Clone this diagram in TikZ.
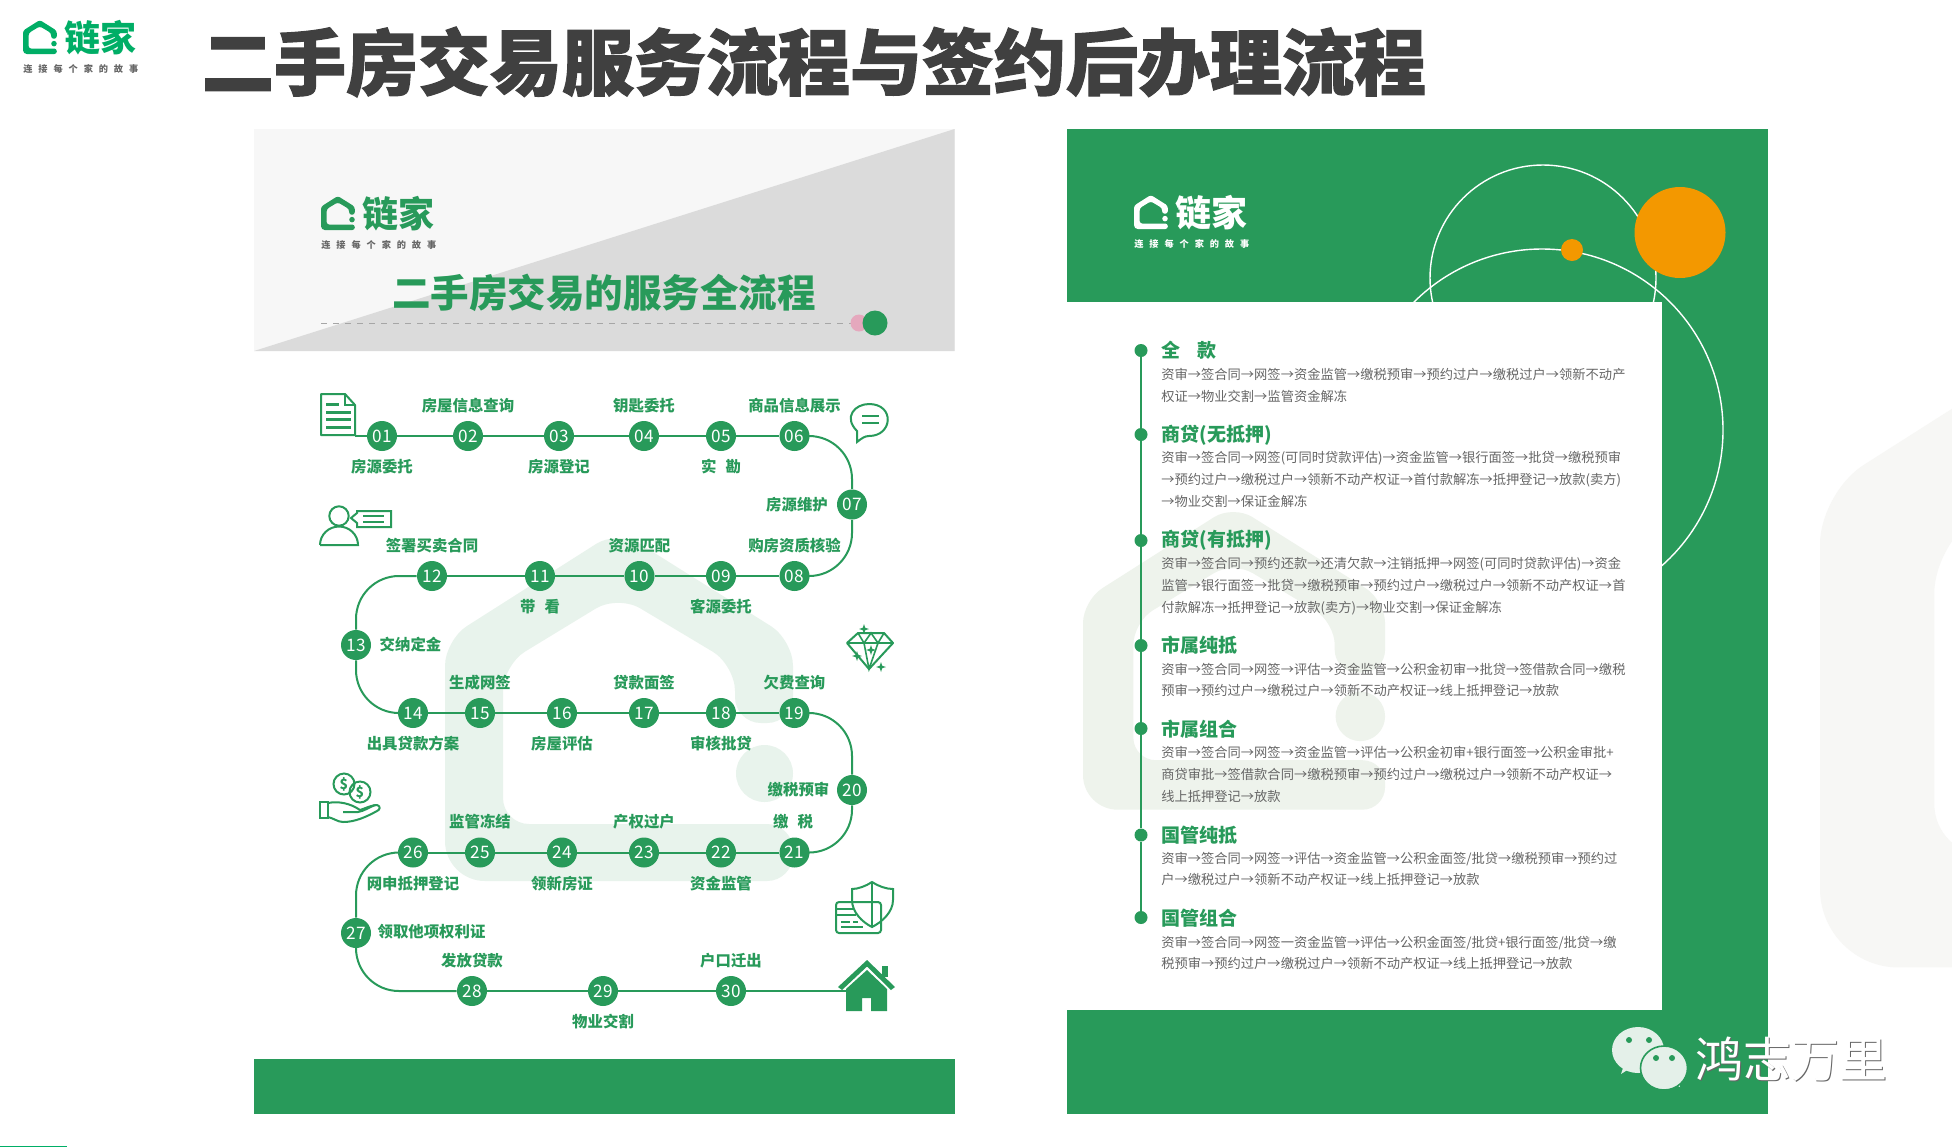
\documentclass[tikz,border=0pt]{standalone}
\usepackage{fontspec}
\usetikzlibrary{calc}
\setmainfont{Noto Sans CJK SC}
\newfontfamily\heavyfont[BoldFeatures={FakeBold=1.6}]{Noto Sans CJK SC}
\newfontfamily\sloganfont[LetterSpace=64]{Noto Sans CJK SC}
\definecolor{lgreen}{HTML}{289A5A}
\definecolor{bgreen}{HTML}{00AE66}
\definecolor{lorange}{HTML}{F39800}
\definecolor{lgray}{HTML}{666666}
\definecolor{ltitle}{HTML}{404040}
\definecolor{lpink}{HTML}{E5A8BD}
\definecolor{wmleft}{HTML}{E8F3EC}
\definecolor{wmright}{HTML}{EEF3EC}
\definecolor{wmpage}{HTML}{F7F7F5}
\definecolor{wxpale}{HTML}{E4F0E9}
\tikzset{
  pics/housemark/.style 2 args={code={
      \fill[#1,scale=#2,rounded corners=#2*13pt] (0,200) -- (0,110) -- (173,0) -- (348,110) -- (348,193) -- (290,193) -- (290,135) -- (173,65) -- (58,135) -- (58,294) -- (348,294) -- (348,351) [rounded corners=#2*20pt] -- (0,351) -- cycle;
      \fill[#1,scale=#2] (319.5,243.5) circle[radius=28.5];
  }},
  pics/logomark/.style 2 args={code={
      \pic at (0,0) {housemark={#1}{.097}};
      \node[text=#1,inner sep=0pt,anchor=west,font=\bfseries\fontsize{18}{18}\selectfont](-brand)at(41,18){链家};
      \node[text=#2,inner sep=0pt,anchor=west,font=\sloganfont\bfseries\fontsize{4.6}{5}\selectfont](-slogan)at(0,48.5){连接每个家的故事};
  }},
  pics/sparkmark/.style={code={
      \fill[lgreen] (0,-5) -- (1.2,-1.2) -- (5,0) -- (1.2,1.2) -- (0,5) -- (-1.2,1.2) -- (-5,0) -- (-1.2,-1.2) -- cycle;
  }},
  num/.style={circle,fill=lgreen,text=white,inner sep=0pt,minimum size=15pt,font=\fontsize{8.6}{9}\selectfont},
  lab/.style={text=lgreen,inner sep=0pt,yshift=-.4pt,font=\bfseries\fontsize{7.7}{8}\selectfont},
  link/.style={lgreen,line width=1pt},
  turn/.style={lgreen,line width=1pt,rounded corners=21.5pt},
  icon/.style={lgreen,line width=1pt},
  headtext/.style={text=lgreen,inner sep=0pt,anchor=west,font=\bfseries\fontsize{9.5}{10}\selectfont},
  bodytext/.style={text=lgray,inner sep=0pt,anchor=north west,align=left,font=\fontsize{6.63}{10.85}\selectfont},
  bullet/.style={circle,fill=lgreen,inner sep=0pt,minimum size=6.5pt}
}
\begin{document}
\begin{tikzpicture}[x=.5pt,y=-.5pt]
  \useasboundingbox (0,0) rectangle (1952,1147);
  \clip (0,0) rectangle (1952,1147);
  \fill[white] (0,0) rectangle (1952,1147);
  \pic at (1820,276) {housemark={wmpage}{1.97}};
  \node[inner sep=0pt,text=ltitle,font=\bfseries\heavyfont\fontsize{36}{36}\selectfont](title)at(814,62){二手房交易服务流程与签约后办理流程};
  \pic (logotop) at (23,20) {logomark={bgreen}{lgray}};
  \fill[bgreen] (0,1145.5) rectangle (67,1147);

  \fill[black!3] (254,129) rectangle (954.5,351);
  \fill[black!14] (954.5,129) -- (954.5,351) -- (254,351) -- cycle;
  \pic (logoleft) at (321,196) {logomark={lgreen}{lgray}};
  \node[text=lgreen,inner sep=0pt,font=\bfseries\fontsize{19.25}{20}\selectfont](paneltitle)at(604,292.5){二手房交易的服务全流程};
  \coordinate (dashend) at (851,323);
  \coordinate (dashstart) at (321,323);
  \draw[black!35,dashed,line width=.4pt] (dashstart) -- (dashend);
  \fill[lpink] (859,323) circle[radius=8.5];
  \fill[lgreen] (875,323) circle[radius=12.5];
  \fill[lgreen] (254,1059) rectangle (954.5,1114);
  \pic at (445,530) {housemark={wmleft}{1}};

  \draw[icon,line join=round] (321,394) -- (345,394) -- (355,405) -- (355,435) -- (321,435) -- cycle;
  \draw[icon] (345,394) -- (345,405) -- (355,405);
  \draw[lgreen,line width=1.5pt] (326,404) -- (339,404) (326,412) -- (351,412) (326,419) -- (351,419) (326,427) -- (351,427);
  \draw[icon] (339,516) circle[radius=9.7];
  \draw[icon] (320,545) -- (358,545) arc[start angle=0,end angle=-180,x radius=19,y radius=18.5];
  \draw[icon] (351,518) -- (357,513) -- (357,511) -- (391,511) -- (391,527) -- (357,527) -- (357,523) -- cycle;
  \draw[icon] (363,516) -- (384,516) (363,522) -- (384,522);
  \draw[icon] (857,442) -- (857,431) .. controls (843,417) and (855,404) .. (869,404) .. controls (895,404) and (893,436) .. (869,436) .. controls (865,436) and (862,438) .. (857,442) -- cycle;
  \draw[icon] (862,416) -- (879,416) (862,423) -- (879,423);
  \draw[icon,line join=round] (858,633) -- (884,633) -- (893,643) -- (869,669) -- (847,643) -- cycle;
  \draw[lgreen,line width=.8pt] (847,643) -- (893,643) (858,633) -- (864,643) -- (871,633) -- (878,643) -- (884,633) (864,643) -- (869,669) -- (878,643);
  \pic at (864,629) {sparkmark};
  \pic at (857,656) {sparkmark};
  \pic at (881,667) {sparkmark};
  \pic at (871,650) {sparkmark};
  \draw[icon] (344,784) circle[radius=10.5];
  \draw[icon] (360,792) circle[radius=10.5];
  \node[text=lgreen,inner sep=0pt,font=\bfseries\fontsize{7}{7}\selectfont](dollara)at(344,784){\$};
  \node[text=lgreen,inner sep=0pt,font=\bfseries\fontsize{7}{7}\selectfont](dollarb)at(360,792){\$};
  \draw[icon] (320,802) rectangle (328,818);
  \draw[icon,line join=round] (328,803) .. controls (338,801) and (350,803) .. (360,810) .. controls (366,808) and (372,805) .. (377,805) .. controls (381,806) and (380,810) .. (377,811) .. controls (366,817) and (355,822) .. (343,822) .. controls (338,822) and (333,818) .. (328,817);
  \draw[icon] (343,812) -- (358,812) .. controls (364,811) and (370,807) .. (375,805);
  \draw[icon,rounded corners=1.5pt] (836,902) rectangle (881,933);
  \draw[icon] (836,909) -- (853,909) (836,915) -- (856,915);
  \draw[lgreen,line width=1.2pt] (841,922) -- (850,922) (853,922) -- (858,922) (841,927) -- (863,927);
  \draw[icon] (872,882) .. controls (866,886) and (858,889) .. (852,889) -- (852,900) .. controls (852,912) and (862,922) .. (872,927) .. controls (882,922) and (893,912) .. (893,900) -- (893,889) .. controls (886,889) and (878,886) .. (872,882) -- cycle;
  \draw[icon] (872,882) -- (872,927);
  \fill[lgreen] (867,960) -- (895,987) -- (891,990) -- (867,966.5) -- (842,990) -- (838,987) -- cycle;
  \fill[lgreen] (867,970) -- (887,989) -- (887,1011) -- (871,1011) -- (871,998) -- (862,998) -- (862,1011) -- (846,1011) -- (846,989) -- cycle;
  \fill[lgreen] (882,966) rectangle (888,977);

  \node[num](n01)at(382,436){01};
  \node[num](n02)at(468,436){02};
  \node[num](n03)at(559,436){03};
  \node[num](n04)at(644,436){04};
  \node[num](n05)at(721,436){05};
  \node[num](n06)at(794.5,436){06};
  \node[num](n07)at(852,504.5){07};
  \node[num](n08)at(794.5,576){08};
  \node[num](n09)at(721,576){09};
  \node[num](n10)at(639.5,576){10};
  \node[num](n11)at(540,576){11};
  \node[num](n12)at(432,576){12};
  \node[num](n13)at(356,645){13};
  \node[num](n14)at(413,713){14};
  \node[num](n15)at(480,713){15};
  \node[num](n16)at(562,713){16};
  \node[num](n17)at(644,713){17};
  \node[num](n18)at(721,713){18};
  \node[num](n19)at(794.5,713){19};
  \node[num](n20)at(852,790){20};
  \node[num](n21)at(794.5,852.5){21};
  \node[num](n22)at(721,852.5){22};
  \node[num](n23)at(644,852.5){23};
  \node[num](n24)at(562,852.5){24};
  \node[num](n25)at(480,852.5){25};
  \node[num](n26)at(413,852.5){26};
  \node[num](n27)at(356,933){27};
  \node[num](n28)at(472,991){28};
  \node[num](n29)at(603,991){29};
  \node[num](n30)at(731,991){30};
  \coordinate (docend) at (355,436);
  \coordinate (homeend) at (846,991);

  \draw[link] (docend) -- (n01);
  \draw[link] (n01) -- (n02);
  \draw[link] (n02) -- (n03);
  \draw[link] (n03) -- (n04);
  \draw[link] (n04) -- (n05);
  \draw[link] (n05) -- (n06);
  \draw[turn] (n06.east) -| (n07.north);
  \draw[turn] (n07.south) |- (n08.east);
  \draw[link] (n08) -- (n09);
  \draw[link] (n09) -- (n10);
  \draw[link] (n10) -- (n11);
  \draw[link] (n11) -- (n12);
  \draw[turn] (n12.west) -| (n13.north);
  \draw[turn] (n13.south) |- (n14.west);
  \draw[link] (n14) -- (n15);
  \draw[link] (n15) -- (n16);
  \draw[link] (n16) -- (n17);
  \draw[link] (n17) -- (n18);
  \draw[link] (n18) -- (n19);
  \draw[turn] (n19.east) -| (n20.north);
  \draw[turn] (n20.south) |- (n21.east);
  \draw[link] (n21) -- (n22);
  \draw[link] (n22) -- (n23);
  \draw[link] (n23) -- (n24);
  \draw[link] (n24) -- (n25);
  \draw[link] (n25) -- (n26);
  \draw[turn] (n26.west) -| (n27.north);
  \draw[turn] (n27.south) |- (n28.west);
  \draw[link] (n28) -- (n29);
  \draw[link] (n29) -- (n30);
  \draw[link] (n30) -- (homeend);

  \node[lab](l01)at(382,466){房源委托};
  \node[lab](l02)at(468,404.5){房屋信息查询};
  \node[lab](l03)at(559,466){房源登记};
  \node[lab](l04)at(644,404.5){钥匙委托};
  \node[lab](l05)at(721,466){实\hspace{4.5pt}勘};
  \node[lab](l06)at(794.5,404.5){商品信息展示};
  \node[lab](l07)at(797,504){房源维护};
  \node[lab](l08)at(794.5,544.5){购房资质核验};
  \node[lab](l09)at(721,605.5){客源委托};
  \node[lab](l10)at(639.5,544.5){资源匹配};
  \node[lab](l11)at(540,605.5){带\hspace{4.5pt}看};
  \node[lab](l12)at(432,544.5){签署买卖合同};
  \node[lab](l13)at(410.5,643.5){交纳定金};
  \node[lab](l14)at(413,742.5){出具贷款方案};
  \node[lab](l15)at(480,681.5){生成网签};
  \node[lab](l16)at(562,742.5){房屋评估};
  \node[lab](l17)at(644,681.5){贷款面签};
  \node[lab](l18)at(721,742.5){审核批贷};
  \node[lab](l19)at(794.5,681.5){欠费查询};
  \node[lab](l20)at(798.5,788.5){缴税预审};
  \node[lab](l21)at(793,821){缴\hspace{4.5pt}税};
  \node[lab](l22)at(721,882.5){资金监管};
  \node[lab](l23)at(644,821){产权过户};
  \node[lab](l24)at(562,882.5){领新房证};
  \node[lab](l25)at(480,821){监管冻结};
  \node[lab](l26)at(413,882.5){网申抵押登记};
  \node[lab](l27)at(431.5,931){领取他项权利证};
  \node[lab](l28)at(472,960){发放贷款};
  \node[lab](l29)at(603,1021){物业交割};
  \node[lab](l30)at(731,960){户口迁出};

  \fill[lgreen] (1067,129) rectangle (1767.5,1114);
  \draw[white,line width=.7pt] (1543,278) circle[radius=113];
  \draw[white,line width=.7pt] (1542,430) circle[radius=181];
  \fill[white] (1067,302) rectangle (1661.5,1010);
  \pic at (1083,505) {housemark={wmright}{.868}};
  \fill[lorange] (1680,232.5) circle[radius=45.5];
  \fill[lorange] (1572,250) circle[radius=11];
  \pic (logoright) at (1134,195) {logomark={white}{white}};

  \node[bullet](b1)at(1141,350.5){};
  \node[bullet](b2)at(1141,434.5){};
  \node[bullet](b3)at(1141,540.5){};
  \node[bullet](b4)at(1141,645.5){};
  \node[bullet](b5)at(1141,728.5){};
  \node[bullet](b6)at(1141,835){};
  \node[bullet](b7)at(1141,917.5){};
  \draw[link] (b1) -- (b2);
  \draw[link] (b2) -- (b3);
  \draw[link] (b3) -- (b4);
  \draw[link] (b4) -- (b5);
  \draw[link] (b5) -- (b6);
  \draw[link] (b6) -- (b7);

  \node[headtext](h1)at(1161,350){全\hspace{8.5pt}款};
  \node[headtext](h2)at(1161,435){商贷(无抵押)};
  \node[headtext](h3)at(1161,540.5){商贷(有抵押)};
  \node[headtext](h4)at(1161,645.5){市属纯抵};
  \node[headtext](h5)at(1161,729){市属组合};
  \node[headtext](h6)at(1161,835){国管纯抵};
  \node[headtext](h7)at(1161,918.5){国管组合};
  \node[bodytext](t1)at(1161,368){资审→签合同→网签→资金监管→缴税预审→预约过户→缴税过户→领新不动产\\权证→物业交割→监管资金解冻};
  \node[bodytext](t2)at(1161,451){资审→签合同→网签(可同时贷款评估)→资金监管→银行面签→批贷→缴税预审\\→预约过户→缴税过户→领新不动产权证→首付款解冻→抵押登记→放款(卖方)\\→物业交割→保证金解冻};
  \node[bodytext](t3)at(1161,557){资审→签合同→预约还款→还清欠款→注销抵押→网签(可同时贷款评估)→资金\\监管→银行面签→批贷→缴税预审→预约过户→缴税过户→领新不动产权证→首\\付款解冻→抵押登记→放款(卖方)→物业交割→保证金解冻};
  \node[bodytext](t4)at(1161,662.5){资审→签合同→网签→评估→资金监管→公积金初审→批贷→签借款合同→缴税\\预审→预约过户→缴税过户→领新不动产权证→线上抵押登记→放款};
  \node[bodytext](t5)at(1161,746){资审→签合同→网签→资金监管→评估→公积金初审+银行面签→公积金审批+\\商贷审批→签借款合同→缴税预审→预约过户→缴税过户→领新不动产权证→\\线上抵押登记→放款};
  \node[bodytext](t6)at(1161,851.5){资审→签合同→网签→评估→资金监管→公积金面签/批贷→缴税预审→预约过\\户→缴税过户→领新不动产权证→线上抵押登记→放款};
  \node[bodytext](t7)at(1161,935.5){资审→签合同→网签一资金监管→评估→公积金面签/批贷+银行面签/批贷→缴\\税预审→预约过户→缴税过户→领新不动产权证→线上抵押登记→放款};

  \fill[wxpale] (1621,1074) -- (1632,1067) -- (1626,1059) -- cycle;
  \fill[wxpale] (1638,1050) circle[x radius=26,y radius=23];
  \fill[lgreen] (1629,1040) circle[radius=3];
  \fill[lgreen] (1649,1040) circle[radius=3];
  \fill[wxpale] (1680,1087) -- (1668,1081) -- (1678,1073) -- cycle;
  \draw[lgreen,fill=wxpale,line width=.8pt] (1664,1068) circle[x radius=23.5,y radius=22];
  \fill[lgreen] (1656,1058) circle[radius=3];
  \fill[lgreen] (1672,1058) circle[radius=3];
  \node[inner sep=0pt,text=black!60,font=\fontsize{24}{24}\selectfont](wxshadow)at(1792.5,1060.5){鸿志万里};
  \node[inner sep=0pt,text=white,font=\fontsize{24}{24}\selectfont](wxname)at(1791.5,1059.5){鸿志万里};
\end{tikzpicture}
\end{document}
